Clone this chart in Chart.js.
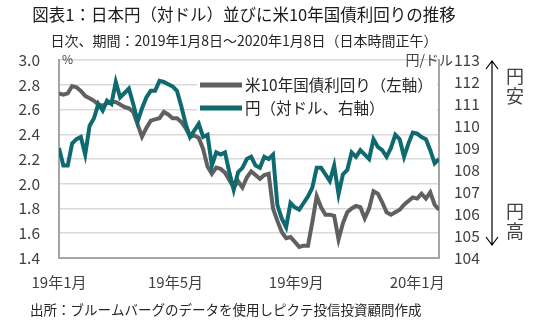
<!DOCTYPE html>
<html>
<head>
<meta charset="utf-8">
<script src="https://cdn.jsdelivr.net/npm/chart.js@4"></script>
<style>
  html, body { margin: 0; padding: 0; background: #fff; }
</style>
</head>
<body>
<canvas id="lineChart" width="550" height="333"></canvas>
<script>
// 営業日インデックス（2019/1/8 = 0、3営業日ごと）
var dayIdx = [0,3,6,9,12,15,18,21,24,27,30,33,36,39,42,45,48,51,54,57,
    60,63,66,69,72,75,78,81,84,87,90,93,96,99,102,105,108,111,114,117,
    120,123,126,129,132,135,138,141,144,147,150,153,156,159,162,165,168,171,174,177,
    180,183,186,189,192,195,198,201,204,207,210,213,216,219,222,225,228,231,234,237,
    240,243,246,249,252,255,258,261];

// 米10年国債利回り（%）
var yieldPct = [2.73,2.72,2.73,2.79,2.78,2.75,2.71,2.69,2.67,2.64,
    2.63,2.65,2.66,2.66,2.64,2.62,2.61,2.58,2.48,2.38,
    2.45,2.51,2.52,2.53,2.58,2.56,2.53,2.53,2.50,2.45,
    2.38,2.39,2.37,2.28,2.14,2.08,2.13,2.12,2.09,2.03,
    1.97,2.02,1.97,2.05,2.10,2.07,2.04,2.07,2.08,1.80,
    1.70,1.61,1.56,1.57,1.53,1.49,1.50,1.50,1.69,1.90,
    1.81,1.75,1.75,1.74,1.55,1.68,1.77,1.80,1.82,1.81,
    1.72,1.80,1.94,1.92,1.85,1.77,1.75,1.77,1.79,1.83,
    1.86,1.89,1.88,1.92,1.88,1.93,1.83,1.79];

// 円（対ドル）
var usdJpy = [109.0,108.2,108.2,109.2,109.4,109.5,108.7,110.0,110.35,111.0,
    110.7,111.15,111.0,112.0,111.3,111.5,111.7,111.0,110.2,110.8,
    111.3,111.6,111.6,112.05,112.0,111.9,111.8,111.6,110.9,110.1,
    109.5,109.8,110.1,109.5,109.6,108.2,108.8,108.7,108.8,107.9,
    107.1,107.9,108.1,108.5,108.6,108.2,108.1,108.6,108.5,108.7,
    106.4,105.8,105.4,106.5,106.3,106.2,106.5,106.8,107.2,108.1,
    108.1,107.8,107.5,108.2,106.9,107.8,108.0,108.8,108.6,108.9,
    108.7,108.5,109.4,109.05,108.9,108.6,109.0,109.6,109.4,108.6,
    109.2,109.7,109.65,109.5,109.4,108.9,108.3,108.5];

var xTickIdx = [0, 80, 163, 246];
var xTickLabels = ['19年1月', '19年5月', '19年9月', '20年1月'];
var leftTicks = [1.4, 1.6, 1.8, 2.0, 2.2, 2.4, 2.6, 2.8, 3.0];
var rightTicks = [104, 105, 106, 107, 108, 109, 110, 111, 112, 113];

var FONT = "'Noto Sans CJK JP', 'Noto Sans', sans-serif";
var GRAY = '#606060';
var TEAL = '#0f6a70';
var LABEL = '#404040';

// タイトル、凡例、矢印などをキャンバスに直接描く
var decor = {
    id: 'decor',
    afterDatasetsDraw: function(chart) {
        var ctx = chart.ctx;
        var area = chart.chartArea;
        ctx.save();

        ctx.fillStyle = '#1a1a1a';
        ctx.textAlign = 'center';
        ctx.textBaseline = 'middle';
        ctx.font = '16.5px ' + FONT;
        ctx.fillText('図表1：日本円（対ドル）並びに米10年国債利回りの推移', 244, 15);
        ctx.font = '14px ' + FONT;
        ctx.fillStyle = '#262626';
        ctx.fillText('日次、期間：2019年1月8日～2020年1月8日（日本時間正午）', 244, 41);

        ctx.textAlign = 'left';
        ctx.font = '13.5px ' + FONT;
        ctx.fillText('出所：ブルームバーグのデータを使用しピクテ投信投資顧問作成', 30, 310);

        // 単位
        ctx.fillStyle = LABEL;
        ctx.font = '12px ' + FONT;
        ctx.fillText('%', area.left + 3, area.top - 1);
        ctx.textAlign = 'right';
        ctx.font = '14px ' + FONT;
        ctx.fillText('円/ドル', 453, area.top);

        // 凡例
        var items = chart.data.datasets;
        ctx.fillStyle = '#fff';
        ctx.fillRect(197, 72, 240, 48);
        ctx.textAlign = 'left';
        ctx.font = '15.5px ' + FONT;
        items.forEach(function(ds, i) {
            var y = 85 + i * 23;
            ctx.strokeStyle = ds.borderColor;
            ctx.lineWidth = 5;
            ctx.beginPath();
            ctx.moveTo(200, y);
            ctx.lineTo(242, y);
            ctx.stroke();
            ctx.fillStyle = '#262626';
            ctx.fillText(ds.label, 245, y);
        });

        // 円安・円高の矢印
        var ax = 492, top = 61, bot = 245;
        ctx.strokeStyle = '#000';
        ctx.lineWidth = 1.2;
        ctx.beginPath();
        ctx.moveTo(ax, top); ctx.lineTo(ax, bot);
        ctx.moveTo(ax - 6, top + 8); ctx.lineTo(ax, top); ctx.lineTo(ax + 6, top + 8);
        ctx.moveTo(ax - 6, bot - 8); ctx.lineTo(ax, bot); ctx.lineTo(ax + 6, bot - 8);
        ctx.stroke();

        ctx.fillStyle = LABEL;
        ctx.textAlign = 'center';
        ctx.font = '18px ' + FONT;
        ctx.fillText('円', 515, 76);
        ctx.fillText('安', 515, 96);
        ctx.fillText('円', 515, 211);
        ctx.fillText('高', 515, 231);

        ctx.restore();
    }
};

var ctx = document.getElementById('lineChart').getContext('2d');

var myChart = new Chart(ctx, {
    type: 'line',
    data: {
        datasets: [{
            label: '米10年国債利回り（左軸）',
            data: dayIdx.map(function(d, i) { return { x: d, y: yieldPct[i] }; }),
            borderColor: GRAY,
            backgroundColor: GRAY,
            borderWidth: 4,
            pointRadius: 0,
            tension: 0,
            yAxisID: 'y',
            order: 2
        }, {
            label: '円（対ドル、右軸）',
            data: dayIdx.map(function(d, i) { return { x: d, y: usdJpy[i] }; }),
            borderColor: TEAL,
            backgroundColor: TEAL,
            borderWidth: 4,
            pointRadius: 0,
            tension: 0,
            yAxisID: 'y1',
            order: 1
        }]
    },
    options: {
        responsive: false,
        animation: false,
        devicePixelRatio: 1,
        layout: { padding: { top: 60, left: 0, right: 0, bottom: 0 } },
        plugins: {
            legend: { display: false },
            title: { display: false },
            tooltip: { enabled: false }
        },
        scales: {
            x: {
                type: 'linear',
                min: 0,
                max: 261,
                afterBuildTicks: function(s) {
                    s.ticks = xTickIdx.map(function(v) { return { value: v }; });
                },
                afterFit: function(s) { s.height = 75; },
                grid: { display: false, drawTicks: false },
                border: { color: '#a6a6a6', width: 2 },
                ticks: {
                    autoSkip: false,
                    maxRotation: 0,
                    padding: 15,
                    color: LABEL,
                    font: { family: FONT, size: 15 },
                    callback: function(v) { return xTickLabels[xTickIdx.indexOf(v)]; }
                }
            },
            y: {
                position: 'left',
                min: 1.4,
                max: 3.0,
                afterBuildTicks: function(s) {
                    s.ticks = leftTicks.map(function(v) { return { value: v }; });
                },
                afterFit: function(s) { s.width = 59; },
                grid: { color: '#d9d9d9', lineWidth: 1.5, drawTicks: false },
                border: { color: '#a6a6a6', width: 2 },
                ticks: {
                    padding: 19,
                    color: LABEL,
                    font: { family: FONT, size: 15.5 },
                    callback: function(v) { return v.toFixed(1); }
                }
            },
            y1: {
                position: 'right',
                min: 104,
                max: 113,
                afterBuildTicks: function(s) {
                    s.ticks = rightTicks.map(function(v) { return { value: v }; });
                },
                afterFit: function(s) { s.width = 111; },
                grid: { drawOnChartArea: false, drawTicks: false },
                border: { color: '#a6a6a6', width: 2 },
                ticks: {
                    padding: 15,
                    color: LABEL,
                    font: { family: FONT, size: 15.5 }
                }
            }
        }
    },
    plugins: [decor]
});
</script>
</body>
</html>
